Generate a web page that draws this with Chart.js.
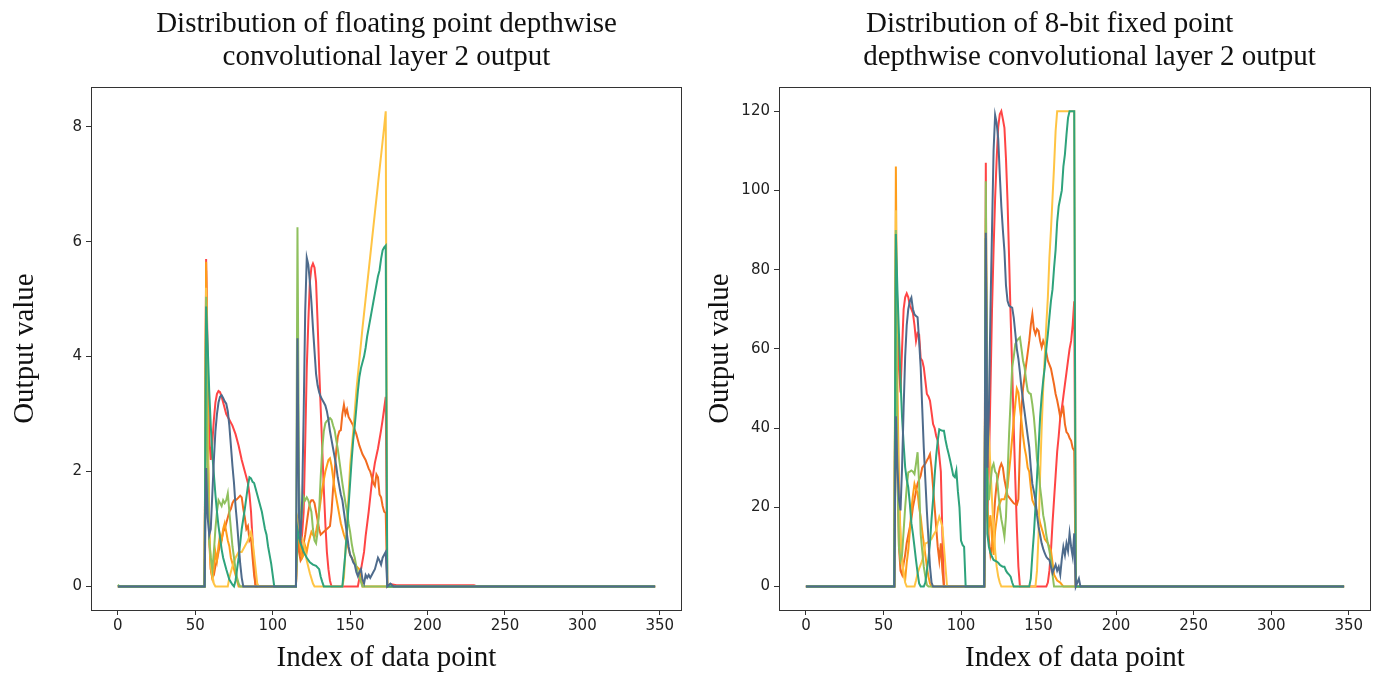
<!DOCTYPE html>
<html>
<head>
  <title>Depthwise convolutional layer 2 output</title>
  <script src="https://cdn.jsdelivr.net/npm/chart.js"></script>
  <style>
    body { margin: 0; background: #fff; }
    .panel { position: absolute; top: 0; width: 690px; height: 675px; }
  </style>
</head>
<body>
  <div class="panel" style="left:0"><canvas id="floatChart" width="690" height="675"></canvas></div>
  <div class="panel" style="left:690px"><canvas id="fixedChart" width="690" height="675"></canvas></div>

<script>
  // x ticks shared by both panels
  const xTicks = [0, 50, 100, 150, 200, 250, 300, 350];
  const floatYTicks = [0, 2, 4, 6, 8];
  const fixedYTicks = [0, 20, 40, 60, 80, 100, 120];

  const seriesColors = ['#ff4545', '#f26b1f', '#ff9d1a', '#ffc444', '#8fc05e', '#2ea37c', '#4e6b8c'];

  // floating point output, [index, value]
  const floatRed = [[0,0],[56,0],[57,5.7],[58,4.0],[59,2.6],[60,2.2],[61,2.5],[62,2.9],[63,3.2],[64,3.35],[65,3.4],[66,3.38],[67,3.3],[68,3.2],[69,3.1],[70,3.0],[72,2.9],[74,2.8],[76,2.65],[78,2.45],[80,2.2],[82,2.0],[84,1.8],[85,1.6],[86,1.3],[87,0.8],[88,0.3],[89,0],[115,0],[116,1.0],[117,0.7],[118,0.6],[119,0.9],[120,1.3],[121,2.5],[122,3.8],[123,4.6],[124,5.3],[125,5.55],[126,5.62],[127,5.55],[128,5.3],[129,4.6],[130,3.8],[131,3.1],[132,2.4],[133,1.7],[134,1.1],[135,0.6],[136,0.3],[137,0.1],[138,0],[155,0],[157,0.29],[159,0.6],[160,0.87],[162,1.3],[164,1.8],[166,2.15],[168,2.4],[170,2.72],[171,2.9],[172,3.1],[173,3.3],[174,0],[176,0.04],[180,0.02],[230,0.02],[232,0],[347,0]];
  const floatOrange = [[0,0],[56,0],[57,5.5],[58,2.5],[59,0.8],[60,0.3],[61,0.15],[62,0.2],[63,0.35],[64,0.45],[65,0.6],[66,0.75],[67,0.8],[68,0.95],[69,1.0],[70,1.1],[71,1.2],[72,1.3],[73,1.35],[74,1.45],[75,1.5],[76,1.5],[77,1.52],[78,1.55],[79,1.58],[80,1.55],[81,1.35],[82,1.2],[83,1.0],[84,1.05],[85,0.8],[86,0.85],[87,0.5],[88,0.2],[89,0],[115,0],[116,0.9],[117,0.6],[118,0.45],[119,0.5],[120,0.75],[121,0.9],[122,1.1],[123,1.3],[124,1.45],[125,1.5],[126,1.5],[127,1.45],[128,1.3],[129,1.15],[130,1.0],[131,0.9],[133,0.95],[135,1.0],[137,1.05],[138,1.3],[139,1.7],[140,2.0],[141,2.35],[142,2.6],[143,2.7],[144,2.72],[145,3.0],[146,3.16],[147,3.0],[148,3.08],[149,2.95],[150,2.9],[152,2.8],[154,2.65],[156,2.45],[158,2.3],[160,2.2],[162,2.05],[163,2.0],[165,1.8],[166,1.75],[167,1.95],[168,1.9],[169,1.6],[170,1.55],[171,1.4],[172,1.3],[173,1.28],[174,0],[347,0]];
  const floatAmber = [[0,0],[56,0],[57,5.65],[58,3.0],[59,1.0],[60,0.3],[61,0.15],[62,0.3],[63,0.6],[64,0.45],[65,0.7],[66,0.9],[67,0.8],[68,1.0],[69,1.1],[70,0.95],[71,0.8],[72,0.7],[73,0.5],[75,0.3],[77,0.1],[78,0],[115,0],[116,1.1],[117,0.8],[118,0.65],[119,0.5],[120,0.55],[121,0.7],[122,0.6],[123,0.75],[124,0.85],[125,0.95],[126,0.9],[127,0.85],[128,0.95],[129,1.1],[130,1.3],[131,1.5],[132,1.7],[133,1.85],[134,2.0],[135,2.1],[136,2.2],[137,2.23],[138,2.1],[139,1.9],[140,1.7],[141,1.55],[142,1.4],[143,1.25],[144,1.1],[145,1.0],[146,0.9],[148,0.75],[150,0.55],[152,0.45],[154,0.35],[156,0.3],[157,0.2],[158,0],[347,0]];
  const floatYellow = [[0,0],[56,0],[57,5.2],[58,2.5],[59,1.0],[60,0.4],[61,0.2],[62,0.05],[63,0],[71,0],[72,0.15],[74,0.35],[76,0.5],[78,0.6],[80,0.6],[82,0.7],[84,0.8],[86,0.95],[87,0.8],[88,0.55],[89,0.3],[90,0.05],[91,0],[115,0],[116,1.2],[117,1.1],[118,0.9],[120,0.75],[122,0.45],[124,0.23],[126,0.05],[127,0],[145,0],[146,0.15],[148,1.1],[150,2.1],[152,2.7],[154,3.4],[156,3.95],[158,4.5],[160,5.0],[162,5.5],[164,6.0],[166,6.5],[168,7.0],[170,7.5],[172,8.0],[173,8.27],[174,0],[347,0]];
  const floatLime = [[0,0.03],[1,0],[56,0],[57,5.04],[58,2.0],[59,0.8],[60,0.5],[61,0.3],[62,0.6],[63,1.0],[64,1.3],[65,1.5],[66,1.45],[67,1.4],[68,1.5],[69,1.45],[70,1.5],[71,1.62],[72,1.3],[73,1.0],[74,0.7],[75,0.5],[76,0.3],[77,0.15],[78,0.05],[79,0],[115,0],[116,6.25],[117,1.8],[118,1.0],[119,1.3],[120,1.56],[121,1.5],[122,1.55],[123,1.5],[124,1.4],[125,1.3],[126,1.0],[127,0.8],[128,0.75],[129,0.95],[130,1.33],[131,1.9],[132,2.4],[133,2.7],[134,2.84],[135,2.88],[136,2.9],[137,2.93],[138,2.9],[139,2.8],[140,2.72],[141,2.55],[142,2.4],[143,2.2],[144,2.0],[145,1.8],[146,1.62],[147,1.45],[148,1.3],[149,1.1],[150,0.95],[151,0.75],[152,0.6],[153,0.5],[154,0.35],[155,0.25],[156,0.17],[157,0.08],[158,0],[347,0]];
  const floatTeal = [[0,0],[56,0],[57,4.87],[58,4.2],[59,3.4],[60,2.8],[61,2.3],[62,1.95],[63,1.6],[64,1.3],[65,1.05],[66,0.85],[67,0.65],[68,0.5],[70,0.3],[72,0.12],[74,0.03],[75,0],[76,0.1],[77,0.3],[78,0.5],[80,1.0],[82,1.35],[84,1.75],[85,1.9],[86,1.88],[87,1.82],[88,1.8],[89,1.7],[90,1.6],[91,1.5],[92,1.4],[93,1.3],[94,1.15],[95,1.0],[96,0.9],[97,0.7],[98,0.55],[99,0.4],[100,0.2],[101,0],[115,0],[116,1.0],[117,0.85],[118,0.75],[120,0.6],[122,0.5],[124,0.42],[126,0.38],[128,0.36],[130,0.3],[131,0.17],[132,0.08],[133,0],[145,0],[146,0.3],[147,0.6],[148,1.0],[149,1.4],[150,1.8],[151,2.2],[152,2.55],[153,2.8],[154,3.1],[155,3.4],[156,3.65],[157,3.8],[158,3.9],[159,4.0],[160,4.15],[161,4.35],[162,4.5],[163,4.65],[164,4.8],[165,4.95],[166,5.1],[167,5.25],[168,5.4],[169,5.5],[170,5.7],[171,5.85],[172,5.9],[173,5.93],[174,0],[347,0]];
  const floatSlate = [[0,0],[56,0],[57,2.06],[58,1.2],[59,0.9],[60,1.0],[61,1.6],[62,2.2],[63,2.7],[64,3.0],[65,3.2],[66,3.3],[67,3.33],[68,3.28],[69,3.22],[70,3.18],[71,3.05],[72,2.8],[73,2.45],[74,2.1],[75,1.8],[76,1.4],[77,1.1],[78,0.75],[79,0.4],[80,0.15],[81,0],[115,0],[116,4.32],[117,1.2],[118,0.8],[119,1.5],[120,3.0],[121,4.8],[122,5.72],[123,5.6],[124,5.3],[125,4.95],[126,4.5],[127,4.1],[128,3.7],[129,3.5],[130,3.38],[131,3.3],[132,3.25],[133,3.2],[134,3.15],[135,3.05],[136,2.9],[137,2.7],[138,2.55],[139,2.4],[140,2.25],[141,2.1],[142,1.9],[143,1.75],[144,1.6],[145,1.5],[146,1.3],[147,1.1],[148,0.9],[149,0.7],[150,0.55],[151,0.5],[152,0.42],[153,0.38],[154,0.25],[155,0.18],[156,0.25],[157,0.3],[158,0.12],[159,0.05],[160,0.2],[161,0.15],[162,0.2],[163,0.15],[164,0.2],[165,0.25],[166,0.3],[167,0.4],[168,0.5],[169,0.45],[170,0.38],[171,0.5],[172,0.55],[173,0.6],[174,0],[176,0.05],[178,0],[347,0]];

  // 8-bit fixed point output, [index, value]
  const fixedRed = [[0,0],[57,0],[58,85],[59,70],[60,55],[61,49],[62,60],[63,70],[64,73],[65,74],[66,73],[67,71],[68,70],[69,69],[70,66],[71,62],[72,64],[73,63.6],[74,57.6],[75,57],[76,55.3],[77,52],[78,48.6],[79,48],[80,46.9],[81,44],[82,41],[83,40],[84,38],[85,36.8],[86,33],[87,29],[88,13],[89,0],[115,0],[116,107],[117,18],[118,30],[119,50],[120,70],[121,85],[122,98],[123,108],[124,116],[125,119.2],[126,120],[127,118],[128,115.8],[129,108],[130,97.3],[131,83],[132,68],[133,55],[134,40],[135,27],[136,15],[137,5],[138,0],[155,0],[156,1],[157,4],[158,9],[159,16],[160,22],[161,28],[162,34],[163,38],[164,42.7],[165,45],[166,48],[167,51],[168,54],[169,57],[170,60],[171,62],[172,66],[173,72],[174,0],[347,0]];
  const fixedOrange = [[0,0],[57,0],[58,80],[59,30],[60,10],[61,4],[62,3],[63,5.8],[64,8],[65,11],[66,13],[67,15],[68,17],[69,20],[70,22],[71,24],[72,26],[73,27],[74,28],[75,30],[76,30.5],[77,31],[78,31.8],[79,32.5],[80,33.4],[81,30],[82,25],[83,20],[84,15],[85,10],[86,6.6],[87,10.9],[88,4],[89,0],[115,0],[116,25],[117,18],[118,12],[119,8],[120,10],[121,16],[122,22],[123,26],[124,28],[125,30],[126,31],[127,30],[128,27],[129,25],[130,23],[132,22],[134,21],[136,20.6],[137,22],[138,35],[139,45],[140,50],[141,53],[142,56],[143,59],[144,62],[145,66],[146,68.7],[147,65],[148,63.7],[149,65],[150,64.5],[151,62],[152,60.4],[153,62],[154,61],[155,59],[156,57],[158,55],[160,51],[161,48.6],[162,47],[163,45],[164,42.7],[165,44],[166,45],[167,41],[168,39],[169,38.5],[170,37.5],[171,36.8],[172,35],[173,34.3],[174,0],[347,0]];
  const fixedAmber = [[0,0],[57,0],[58,106],[59,50],[60,26],[61,12],[62,6.6],[63,3],[64,1.7],[65,6],[66,9.1],[67,14],[68,19.3],[69,23],[70,25.9],[71,24.5],[72,23.8],[73,20],[74,17.6],[75,14],[76,10.9],[77,8],[78,5],[79,2.5],[80,0.8],[81,0],[115,0],[116,90],[117,20],[118,15],[119,18],[120,12],[121,8],[122,14],[124,20],[126,22],[128,22],[130,25],[132,33],[134,42],[135,46],[136,50],[137,49],[138,45],[139,41.8],[140,38],[141,35],[142,33],[143,30],[144,29],[145,25],[146,21.8],[148,20],[150,18],[151,16],[153,13.4],[154,12],[156,10.9],[158,9.1],[160,3],[162,1.5],[164,1],[166,0],[347,0]];
  const fixedYellow = [[0,0],[57,0],[58,95],[59,40],[60,20],[61,13.3],[62,7],[63,3.3],[64,1],[65,0],[70,0],[71,1.5],[72,3.3],[73,4.5],[74,5.5],[75,6.6],[76,8.5],[77,10.9],[78,11],[79,11.3],[80,11.6],[81,12],[82,12.8],[83,13.5],[84,14.1],[85,16],[86,17.6],[87,16.5],[88,15],[89,10],[90,5],[91,0],[115,0],[116,93],[117,45],[118,38],[119,30],[120,21.8],[121,15],[122,9.1],[123,5],[124,2.5],[125,1],[126,0],[148,0],[149,4],[150,13],[151,28],[152,40],[153,50],[154,58],[155,66],[156,73],[157,83],[158,90],[159,98],[160,106],[161,115],[162,120],[173,120],[174,0],[347,0]];
  const fixedLime = [[0,0],[57,0],[58,90],[59,30],[60,10],[61,6.6],[62,8],[63,14],[64,20],[65,25],[66,28.8],[67,29],[68,29.3],[69,29],[70,28.4],[71,31],[72,33.9],[73,25.9],[74,13.3],[75,9],[76,5],[77,2.5],[78,0.4],[79,0],[115,0],[116,102.3],[117,30],[118,21.8],[119,26],[120,30],[121,31],[122,29],[123,28.4],[124,24],[125,20],[126,17],[127,15],[128,12.6],[129,17.6],[130,28],[131,38.5],[132,47],[133,55.3],[134,58],[135,61.2],[136,62],[137,62.5],[138,62.9],[139,60],[140,57],[141,55.3],[142,52],[143,49.4],[144,48.8],[145,48.6],[146,46],[147,42.7],[148,38],[149,32],[150,30],[151,25],[152,21.8],[153,18],[154,16],[155,13],[156,10.9],[157,9],[158,6.7],[159,3],[160,0],[347,0]];
  const fixedTeal = [[0,0],[57,0],[58,89],[59,75],[60,63.7],[61,52],[62,42.7],[63,36],[64,30.1],[65,27],[66,25],[67,21],[68,16],[69,13.3],[70,10],[71,6.6],[72,3.5],[73,0.8],[74,0],[76,0],[77,1],[78,4],[79,7],[80,11],[81,17],[82,22],[83,28],[84,33],[85,36.8],[86,39.7],[87,39.5],[88,39.3],[89,39.3],[90,37],[91,35.1],[92,33.5],[93,31.8],[94,30],[95,28],[96,27.6],[97,29.3],[98,24],[99,20],[100,11.6],[101,10.5],[102,10],[103,0],[115,0],[116,88],[117,13.3],[118,10],[119,8.4],[120,7.5],[121,6.7],[122,6.5],[123,6.3],[124,6],[125,5.5],[126,5.2],[127,5],[128,5],[129,4],[130,3.4],[131,3],[132,2.5],[133,1],[134,0],[144,0],[145,2],[146,8],[147,13.3],[148,20],[149,27.6],[150,35],[151,42.7],[152,48],[153,52],[154,55.3],[155,60],[156,63.7],[157,68],[158,72.1],[159,75],[160,80.4],[161,85],[162,92],[163,96],[164,98],[165,100],[166,106],[167,109.1],[168,114],[169,118.3],[170,120],[173,120],[174,0],[347,0]];
  const fixedSlate = [[0,0],[57,0],[58,43],[59,30],[60,22],[61,19.2],[62,30],[63,45],[64,58],[65,66],[66,70],[67,72],[68,72.9],[69,70],[70,68.7],[71,68.3],[72,68],[73,62],[74,55.3],[75,45],[76,35],[77,27],[78,19],[79,12],[80,5],[81,1],[82,0],[115,0],[116,89.3],[117,30],[118,45],[119,70],[120,90],[121,110],[122,119],[123,117],[124,113],[125,104],[126,96],[127,90],[128,84.7],[129,76],[130,72.1],[131,70.9],[132,70.6],[133,70.4],[134,67.9],[135,64],[136,60],[137,57.5],[138,54],[139,50],[140,47],[141,44],[142,41],[143,38],[144,35.1],[145,30],[146,25.9],[147,24],[148,21.8],[149,18],[150,15.1],[151,13],[152,10.9],[153,9.5],[154,8.4],[155,7.5],[156,7],[157,6.7],[158,5],[159,3.4],[160,4.5],[161,5.5],[162,4],[163,5],[164,3],[165,7],[166,10],[167,8],[168,10.9],[169,9],[170,13.4],[171,10],[172,7.6],[173,13.4],[174,0],[176,2],[177,0],[347,0]];

  const floatSeries = [floatRed, floatOrange, floatAmber, floatYellow, floatLime, floatTeal, floatSlate];
  const fixedSeries = [fixedRed, fixedOrange, fixedAmber, fixedYellow, fixedLime, fixedTeal, fixedSlate];

  Chart.defaults.font.family = 'DejaVu Sans';
  Chart.defaults.color = '#222';

  // matplotlib-like frame around the plot area
  const framePlugin = {
    id: 'frame',
    afterDraw(chart) {
      const a = chart.chartArea;
      const ctx = chart.ctx;
      ctx.save();
      ctx.strokeStyle = '#333';
      ctx.lineWidth = 1;
      ctx.strokeRect(Math.round(a.left) + 0.5, Math.round(a.top) + 0.5,
                     Math.round(a.right - a.left) - 1, Math.round(a.bottom - a.top));
      ctx.restore();
    }
  };

  function makeChart(id, titleLines, series, yMin, yMax, yTicks, opts) {
    const datasets = series.map((pts, i) => ({
      data: pts.map(p => ({ x: p[0], y: p[1] })),
      borderColor: seriesColors[i],
      borderWidth: 2,
      pointRadius: 0,
      tension: 0,
      fill: false
    })).reverse(); // first dataset is drawn on top in Chart.js

    const serif = 'Liberation Serif';
    new Chart(document.getElementById(id), {
      type: 'line',
      data: { datasets: datasets },
      plugins: [framePlugin],
      options: {
        responsive: false,
        animation: false,
        layout: { padding: { left: 0, right: opts.rightPad, top: 0, bottom: 0 } },
        plugins: {
          legend: { display: false },
          tooltip: { enabled: false },
          title: {
            display: true,
            text: titleLines,
            fullSize: false,
            color: '#111',
            font: { family: serif, size: 29, weight: 'normal', lineHeight: 1.14 },
            padding: { top: 8, bottom: 13 }
          }
        },
        scales: {
          x: {
            type: 'linear',
            min: -17.35,
            max: 364.35,
            afterBuildTicks: s => { s.ticks = xTicks.map(v => ({ value: v })); },
            afterFit: s => { s.height = opts.xHeight; },
            grid: { drawOnChartArea: false, drawTicks: true, tickLength: 5, color: '#333' },
            border: { display: false },
            ticks: { font: { size: 15 }, padding: 2, maxRotation: 0, color: '#222' },
            title: {
              display: true,
              text: 'Index of data point',
              color: '#111',
              font: { family: serif, size: 29, lineHeight: 1.06 },
              padding: { top: 0, bottom: 1 }
            }
          },
          y: {
            min: yMin,
            max: yMax,
            afterBuildTicks: s => { s.ticks = yTicks.map(v => ({ value: v })); },
            afterFit: s => { s.width = opts.yWidth; },
            grid: { drawOnChartArea: false, drawTicks: true, tickLength: 5, color: '#333' },
            border: { display: false },
            ticks: { font: { size: 15 }, padding: 4, color: '#222' },
            title: {
              display: true,
              text: 'Output value',
              color: '#111',
              font: { family: serif, size: 29, lineHeight: 1.2 },
              padding: { top: opts.yTitlePad, bottom: 0 }
            }
          }
        }
      }
    });
  }

  makeChart('floatChart',
    ['Distribution of floating point depthwise', 'convolutional layer 2 output'],
    floatSeries, -0.41, 8.69, floatYTicks,
    { yWidth: 91, rightPad: 8, xHeight: 65, yTitlePad: 8 });

  // the reference title lines start at the same left edge, so pad them
  makeChart('fixedChart',
    ['Distribution of 8-bit fixed point\u00a0\u00a0\u00a0\u00a0\u00a0\u00a0\u00a0',
     '\u00a0\u00a0\u00a0\u00a0depthwise convolutional layer 2 output'],
    fixedSeries, -5.93, 126.07, fixedYTicks,
    { yWidth: 89, rightPad: 9, xHeight: 65, yTitlePad: 13 });
</script>
</body>
</html>
